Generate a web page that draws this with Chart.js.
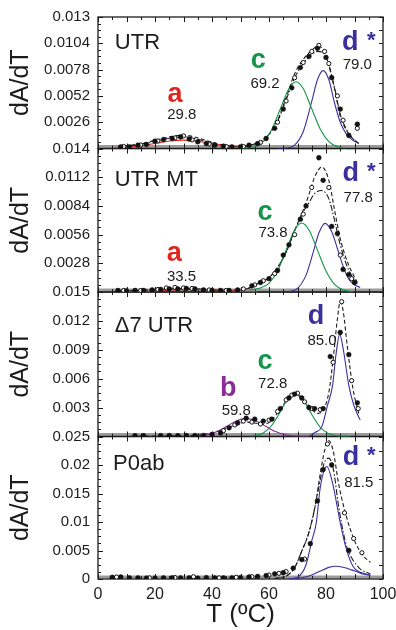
<!DOCTYPE html>
<html>
<head>
<meta charset="utf-8">
<script src="https://cdn.jsdelivr.net/npm/chart.js@4.4.0/dist/chart.umd.min.js"></script>
<style>
  html, body { margin: 0; padding: 0; background: #fff; }
  #wrap { width: 396px; height: 630px; }
</style>
</head>
<body>
<div id="wrap"><canvas id="dsc" width="396" height="630"></canvas></div>
<script>
// ---- UTR ----
const utrDotT = [8, 11, 14, 17, 20, 23, 26, 29, 32, 35, 38, 41, 44, 47, 50, 53, 56, 59, 62, 65, 68, 71, 74, 77, 80, 82, 85, 88, 91];
const utrDotY = [0.00017, 0.00017, 0.00033, 0.00039, 0.00073, 0.00089, 0.00099, 0.00115, 0.00093, 0.00066, 0.00049, 0.00033, 0.00024, 0.00017, 0.00017, 0.00033, 0.00049, 0.00099, 0.0020, 0.0039, 0.0060, 0.0080, 0.0091, 0.0099, 0.0090, 0.0070, 0.0039, 0.0013, 0.0024];
const utrOpenT = [9, 15, 21, 27, 30, 33, 39, 45, 51, 57, 63, 66, 69, 72, 75, 77.5, 79.5, 81, 84, 86, 91];
const utrOpenY = [0.0002, 0.00035, 0.00075, 0.00105, 0.00125, 0.00085, 0.00045, 0.0002, 0.0002, 0.0006, 0.0026, 0.0047, 0.0070, 0.0085, 0.0096, 0.0102, 0.0096, 0.0084, 0.0052, 0.0028, 0.0020];
const utrFitT = [7, 12, 17, 22, 27, 30, 33, 38, 43, 48, 53, 57, 60, 63, 66, 69, 72, 75, 77, 79, 81, 83, 85, 87, 89, 91.5];
const utrFitY = [0.00017, 0.00035, 0.0006, 0.00095, 0.00125, 0.00132, 0.0012, 0.0008, 0.0004, 0.0002, 0.0003, 0.0007, 0.0014, 0.0028, 0.0050, 0.0074, 0.0088, 0.0097, 0.0101, 0.0098, 0.0082, 0.0059, 0.0032, 0.0019, 0.0011, 0.0005];
const utrFit2Y = [0.00015, 0.0003, 0.00055, 0.00085, 0.0011, 0.00115, 0.00105, 0.0007, 0.00035, 0.0002, 0.0003, 0.0007, 0.0014, 0.0027, 0.0048, 0.0070, 0.0084, 0.0093, 0.0096, 0.0095, 0.0083, 0.0060, 0.0034, 0.0020, 0.0011, 0.0005];
const utrAT = [6, 10, 14, 18, 22, 26, 30, 34, 38, 42, 46, 50];
const utrAY = [0.00005, 0.00012, 0.00024, 0.00041, 0.00061, 0.00077, 0.00083, 0.00076, 0.00059, 0.00039, 0.00022, 0.00011];
const utrCT = [50, 54, 58, 61, 64, 67, 69.5, 72, 75, 78, 81, 84, 87];
const utrCY = [0.00001, 0.00011, 0.00068, 0.00191, 0.00393, 0.00593, 0.0066, 0.00593, 0.00393, 0.00191, 0.00068, 0.00018, 0.00003];
const utrDT = [63, 66, 69, 72, 75, 77, 79, 81, 83, 85, 87, 89, 91.5];
const utrDY = [0, 0.00004, 0.00034, 0.00166, 0.00467, 0.0068, 0.0077, 0.0068, 0.0045, 0.0026, 0.0015, 0.0009, 0.0005];

// ---- UTR MT ----
const mtDotT = [7, 10, 13, 16, 19, 22, 25, 28, 31, 34, 37, 40, 43, 46, 49, 54, 57, 60, 63, 65, 67, 71, 73, 77.5, 79, 82, 84, 86, 88, 90];
const mtDotY = [0.00015, 0.00012, 0.00015, 0.00015, 0.0002, 0.00025, 0.0003, 0.0003, 0.00035, 0.0003, 0.0002, 0.00015, 0.00015, 0.00015, 0.0002, 0.0006, 0.00093, 0.0013, 0.0021, 0.0036, 0.0046, 0.0071, 0.0084, 0.0131, 0.0109, 0.0064, 0.0057, 0.0022, 0.0017, 0.00093];
const mtOpenT = [9, 15, 21, 24, 27, 30, 33, 39, 45, 51, 55, 58, 62, 69, 72, 75, 81, 85, 89];
const mtOpenY = [0.00015, 0.00015, 0.00025, 0.0004, 0.00045, 0.0004, 0.00035, 0.0002, 0.00015, 0.0003, 0.0007, 0.0011, 0.0018, 0.0056, 0.0076, 0.0102, 0.0102, 0.0036, 0.0013];
const mtFitT = [7, 15, 25, 30, 35, 45, 52, 56, 60, 63, 66, 69, 72, 74, 76, 78.5, 81, 83, 85, 88, 91];
const mtFitY = [0.00012, 0.00015, 0.0003, 0.00035, 0.0003, 0.00015, 0.0003, 0.0008, 0.0014, 0.0024, 0.0039, 0.0060, 0.0080, 0.0095, 0.0112, 0.0122, 0.0109, 0.0080, 0.0052, 0.0026, 0.00095];
const mtFit2Y = [0.00012, 0.00015, 0.0003, 0.00035, 0.0003, 0.00015, 0.0003, 0.0008, 0.0014, 0.0024, 0.0039, 0.0060, 0.0078, 0.0087, 0.0096, 0.0099, 0.0091, 0.0070, 0.0046, 0.0021, 0.0008];
const mtAT = [10, 18, 26, 33.5, 41, 49, 56];
const mtAY = [0.00002, 0.00008, 0.00019, 0.00025, 0.00019, 0.00008, 0.00002];
const mtCT = [53, 57, 60, 63, 66, 69, 71.5, 74, 77, 80, 83, 86, 89.5];
const mtCY = [0.0002, 0.0004, 0.00085, 0.00205, 0.00409, 0.00608, 0.00674, 0.00608, 0.00409, 0.00205, 0.00075, 0.00021, 0.00003];
const mtDT = [67, 70, 73, 75.5, 77.5, 79.7, 82, 84, 86, 88, 90, 92];
const mtDY = [0.00004, 0.00035, 0.00165, 0.00387, 0.00576, 0.0067, 0.00588, 0.00425, 0.00251, 0.00125, 0.0007, 0.00046];

// ---- Δ7 UTR ----
const d7DotT = [13, 16, 22, 25, 28, 31, 34, 37, 40, 43, 46, 49, 52, 55, 58, 61, 64, 67, 69, 71.5, 74, 76, 79, 81.5, 85, 88, 91];
const d7DotY = [0.00008, 0.00008, 0.00008, 0.0001, 0.00008, 0.0001, 0.0001, 0.0001, 0.0002, 0.00037, 0.0009, 0.0014, 0.0019, 0.0018, 0.0016, 0.0018, 0.0029, 0.0040, 0.0044, 0.0040, 0.0030, 0.0029, 0.0029, 0.0083, 0.0108, 0.0085, 0.0035];
const d7OpenT = [44, 48, 51, 54, 57, 60, 63, 66, 68, 70, 72.5, 75, 78, 82.5, 85.5, 89, 91.3];
const d7OpenY = [0.0006, 0.0012, 0.0016, 0.0015, 0.0013, 0.0017, 0.0026, 0.0038, 0.0043, 0.0045, 0.0036, 0.0029, 0.0028, 0.0077, 0.0140, 0.0058, 0.0029];
const d7FitT = [12, 30, 38, 42, 46, 49, 52, 55, 58, 61, 64, 67, 69.2, 71, 74, 77, 79.5, 81, 82.5, 84, 85, 86, 87.5, 89.5, 91.5];
const d7FitY = [0.00005, 0.00008, 0.00025, 0.00055, 0.00095, 0.0013, 0.0015, 0.0014, 0.00125, 0.0017, 0.0029, 0.0040, 0.0044, 0.0041, 0.0032, 0.0024, 0.0030, 0.0046, 0.0080, 0.0122, 0.0140, 0.0131, 0.0093, 0.0049, 0.0024];
const d7BT = [38, 42, 45, 48, 50, 52, 54, 56, 59, 62, 66, 70, 74];
const d7BY = [0.00017, 0.00055, 0.00103, 0.00154, 0.00178, 0.00187, 0.00178, 0.00154, 0.00103, 0.00055, 0.00017, 0.00004, 0];
const d7CT = [54, 58, 61, 63.5, 66, 68, 69.2, 71, 73, 75, 78, 81, 84.5, 88.5];
const d7CY = [0.00004, 0.00037, 0.00117, 0.00234, 0.00365, 0.00435, 0.00448, 0.0042, 0.00336, 0.00229, 0.00095, 0.00028, 0.00004, 0];
const d7DT = [74, 76, 78.5, 80.5, 82.3, 83.5, 84.8, 86.2, 88, 89.7, 92];
const d7DY = [0, 0.0004, 0.001, 0.0032, 0.0053, 0.0085, 0.0106, 0.0088, 0.0053, 0.0033, 0.0017];

// ---- P0ab ----
const p0DotT = [5, 8, 11, 14, 17, 20, 23, 26, 29, 32, 35, 38, 41, 44, 47, 50, 53, 56, 59, 62, 65, 68.5, 71.5, 74.5, 77, 79, 82, 88];
const p0DotY = [0.0003, 0.00035, 0.0002, 0.0002, 0.00015, 0.00015, 0.0002, 0.0002, 0.0002, 0.0002, 0.00015, 0.00025, 0.0002, 0.0002, 0.0002, 0.00025, 0.00035, 0.00045, 0.0006, 0.0009, 0.0011, 0.0019, 0.0034, 0.0062, 0.0137, 0.0192, 0.0200, 0.0050];
const p0OpenT = [6.5, 18, 27, 33.5, 42.5, 48.5, 54, 60, 63.5, 66, 72.5, 80.5, 86.5, 89.7, 92.6];
const p0OpenY = [0.00035, 0.0002, 0.00025, 0.0004, 0.0002, 0.0003, 0.0004, 0.0007, 0.001, 0.0013, 0.0035, 0.0237, 0.0116, 0.0071, 0.0046];
const p0FitT = [62, 66, 69, 71.5, 73.9, 76.2, 78, 79.5, 80.9, 82.5, 84.5, 86.8, 89.7, 92.6, 95.6];
const p0FitY = [0.0001, 0.0005, 0.0020, 0.0049, 0.0080, 0.0128, 0.0185, 0.0225, 0.0243, 0.0225, 0.0165, 0.0116, 0.0071, 0.00435, 0.0029];
const p0Fit2T = [62, 66, 69, 71.5, 73.9, 76.2, 78, 79.5, 80.9, 82.5, 84.5, 86.8, 88, 91.5, 95.6];
const p0Fit2Y = [0.0001, 0.0005, 0.0020, 0.0049, 0.0080, 0.0128, 0.0175, 0.0205, 0.0212, 0.0195, 0.0125, 0.0065, 0.0047, 0.0020, 0.0009];
const p0D1T = [66.8, 70, 73, 75, 76.6, 78, 80.3, 82.5, 84, 85, 87, 89.5, 92, 95.6];
const p0D1Y = [0.00005, 0.00033, 0.0025, 0.0067, 0.0099, 0.0161, 0.01975, 0.0164, 0.0125, 0.0099, 0.0055, 0.0022, 0.0012, 0.0007];
const p0D2T = [68, 72, 75, 78, 81, 83.3, 86, 89, 92, 95.6];
const p0D2Y = [0.00005, 0.00027, 0.00071, 0.0014, 0.00204, 0.00223, 0.00207, 0.0016, 0.00103, 0.0006];

// tick labels
const utrTicks = [0, 0.0026, 0.0052, 0.0078, 0.0104, 0.013];
const mtTicks = [0, 0.0028, 0.0056, 0.0084, 0.0112, 0.014];
const d7Ticks = [0, 0.003, 0.006, 0.009, 0.012, 0.015];
const p0Ticks = [0, 0.005, 0.01, 0.015, 0.02, 0.025];
const tempTicks = [0, 20, 40, 60, 80, 100];

const FONT = "'Liberation Sans', Arial, sans-serif";
const RED = '#e0261c', GREEN = '#13954a', BLUE = '#3b2f9e', PURPLE = '#8b2b97', INK = '#1c1c1c';
const DASH = [4, 2.5], DASHDOT = [6, 2, 1.5, 2];

const letter = (text, t, v, color) => ({ text, t, v, color, font: 'bold 27px ' + FONT });
const star = (t, v) => ({ text: '*', t, v, color: BLUE, font: 'bold 22px ' + FONT });
const num = (text, t, v) => ({ text, t, v, color: INK, font: '15px ' + FONT });
const name = (text, t, v) => ({ text, t, v, color: INK, font: '22px ' + FONT, align: 'left' });

// top to bottom
const panels = [
  { id: 'yUTR', max: 0.013, ticks: utrTicks, weight: 132,
    lines: [[utrAT, utrAY, RED], [utrCT, utrCY, GREEN], [utrDT, utrDY, BLUE],
            [utrFitT, utrFitY, INK, DASH], [utrFitT, utrFit2Y, INK, DASHDOT]],
    dots: [utrDotT, utrDotY], open: [utrOpenT, utrOpenY],
    notes: [name('UTR', 5.9, 0.00984), letter('a', 27, 0.0046, RED), num('29.8', 29.4, 0.00293),
            letter('c', 56.2, 0.00797, GREEN), num('69.2', 58.6, 0.00599),
            letter('d', 88.5, 0.00974, BLUE), star(95.9, 0.01004), num('79.0', 91, 0.00787)] },
  { id: 'yMT', max: 0.014, ticks: mtTicks, weight: 144,
    lines: [[mtAT, mtAY, RED], [mtCT, mtCY, GREEN], [mtDT, mtDY, BLUE],
            [mtFitT, mtFitY, INK, DASH], [mtFitT, mtFit2Y, INK, DASHDOT]],
    dots: [mtDotT, mtDotY], open: [mtOpenT, mtOpenY],
    notes: [name('UTR MT', 5.9, 0.01036), letter('a', 26.8, 0.00303, RED), num('33.5', 29.3, 0.00112),
            letter('c', 58.6, 0.00706, GREEN), num('73.8', 61.4, 0.00541),
            letter('d', 88.7, 0.01086, BLUE), star(95.9, 0.01113), num('77.8', 91.3, 0.00882)] },
  { id: 'yD7', max: 0.015, ticks: d7Ticks, weight: 145,
    lines: [[d7BT, d7BY, PURPLE], [d7CT, d7CY, GREEN], [d7DT, d7DY, BLUE],
            [d7FitT, d7FitY, INK, DASH]],
    dots: [d7DotT, d7DotY], open: [d7OpenT, d7OpenY],
    notes: [name('Δ7 UTR', 5.9, 0.01081), letter('b', 45.7, 0.00419, PURPLE), num('59.8', 48.5, 0.00222),
            letter('c', 58.6, 0.00705, GREEN), num('72.8', 61.3, 0.00501),
            letter('d', 76.5, 0.0117, BLUE), num('85.0', 78.6, 0.00949)] },
  { id: 'yP0', max: 0.025, ticks: p0Ticks, weight: 143, showZero: true,
    lines: [[p0D1T, p0D1Y, BLUE], [p0D2T, p0D2Y, BLUE],
            [p0FitT, p0FitY, INK, DASH], [p0Fit2T, p0Fit2Y, INK, DASHDOT]],
    dots: [p0DotT, p0DotY], open: [p0OpenT, p0OpenY],
    notes: [name('P0ab', 5.3, 0.01915), letter('d', 88.8, 0.02005, BLUE), star(95.9, 0.02047),
            num('81.5', 91.5, 0.01612)] }
];

const pts = (xs, ys) => xs.map((x, i) => ({ x, y: ys[i] }));

const datasets = [];
panels.forEach(p => {
  p.lines.forEach(([xs, ys, color, dash]) => datasets.push({
    type: 'line', yAxisID: p.id, data: pts(xs, ys),
    borderColor: color, borderWidth: 1.1, borderDash: dash || [],
    pointRadius: 0, fill: false, cubicInterpolationMode: 'monotone', order: 2
  }));
  datasets.push({
    type: 'scatter', yAxisID: p.id, data: pts(p.open[0], p.open[1]),
    pointRadius: 2.1, pointBackgroundColor: '#fff', pointBorderColor: '#111', pointBorderWidth: 1, order: 1
  });
  datasets.push({
    type: 'scatter', yAxisID: p.id, data: pts(p.dots[0], p.dots[1]),
    pointRadius: 2.4, pointBackgroundColor: '#111', pointBorderColor: '#111', pointBorderWidth: 0.5, order: 0
  });
});

const scales = {
  x: {
    type: 'linear', min: 0, max: 100,
    afterBuildTicks: ax => { ax.ticks = tempTicks.map(v => ({ value: v })); },
    afterFit: ax => { ax.height = 51; ax.paddingRight = 13; ax.paddingLeft = 0; },
    grid: { display: false, drawTicks: false }, border: { display: false },
    ticks: { font: { size: 16, family: FONT }, color: INK, padding: 6, maxRotation: 0 },
    title: { display: true, text: 'T (ºC)', font: { size: 26, family: FONT }, color: INK, padding: { top: 0, bottom: 0 } }
  }
};
// defined bottom first so the last one ends up on top of the stack
panels.slice().reverse().forEach(p => {
  scales[p.id] = {
    type: 'linear', position: 'left', stack: 'panels', stackWeight: p.weight,
    min: 0, max: p.max,
    afterBuildTicks: ax => { ax.ticks = p.ticks.map(v => ({ value: v })); },
    afterFit: ax => { ax.width = 98; },
    grid: { display: false, drawTicks: false }, border: { display: false },
    ticks: {
      autoSkip: false, font: { size: 15, family: FONT }, color: INK, padding: 8,
      callback: v => (v === 0 && !p.showZero) ? '' : String(+v.toFixed(5))
    },
    title: { display: true, text: 'dA/dT', font: { size: 25, family: FONT }, color: INK, padding: { top: 6, bottom: 0 } }
  };
});

// panel frames with inward ticks, drawn under the data
const framePlugin = {
  id: 'frames',
  beforeDatasetsDraw(chart) {
    const { ctx, chartArea: { left, right } } = chart;
    const xs = chart.scales.x;
    ctx.save();
    panels.forEach(p => {
      const s = chart.scales[p.id];
      const top = s.top, bottom = s.bottom;
      ctx.strokeStyle = '#9c9c9c';
      ctx.lineWidth = 3;
      ctx.beginPath(); ctx.moveTo(left, bottom - 2); ctx.lineTo(right, bottom - 2); ctx.stroke();

      ctx.strokeStyle = INK;
      ctx.lineWidth = 1;
      ctx.beginPath();
      const step = p.ticks[1];
      for (let i = 0; i <= (p.ticks.length - 1) * 4; i++) {
        const y = Math.round(s.getPixelForValue(i * step / 4)) + 0.5;
        const len = i % 4 === 0 ? 5 : 3;
        ctx.moveTo(left, y); ctx.lineTo(left + len, y);
        if (i % 2 === 0) { ctx.moveTo(right, y); ctx.lineTo(right - 4, y); }
      }
      for (let t = 0; t <= 100; t += 5) {
        const x = Math.round(xs.getPixelForValue(t)) + 0.5;
        const len = t % 10 === 0 ? 5 : 3;
        ctx.moveTo(x, top); ctx.lineTo(x, top + len);
        ctx.moveTo(x, bottom); ctx.lineTo(x, bottom - len);
      }
      ctx.stroke();
      ctx.lineWidth = 1.3;
      ctx.strokeRect(left, top, right - left, bottom - top);
    });
    ctx.restore();
  },
  afterDatasetsDraw(chart) {
    const { ctx } = chart;
    const xs = chart.scales.x;
    ctx.save();
    ctx.textBaseline = 'alphabetic';
    panels.forEach(p => {
      const s = chart.scales[p.id];
      p.notes.forEach(n => {
        ctx.font = n.font;
        ctx.fillStyle = n.color;
        ctx.textAlign = n.align || 'center';
        ctx.fillText(n.text, xs.getPixelForValue(n.t), s.getPixelForValue(n.v));
      });
    });
    ctx.restore();
  }
};

Chart.defaults.font.family = FONT;

new Chart(document.getElementById('dsc'), {
  type: 'line',
  data: { datasets },
  options: {
    responsive: false,
    animation: false,
    layout: { padding: { top: 8, right: 0, bottom: 0, left: 0 } },
    plugins: { legend: { display: false }, tooltip: { enabled: false } },
    scales
  },
  plugins: [framePlugin]
});
</script>
</body>
</html>
